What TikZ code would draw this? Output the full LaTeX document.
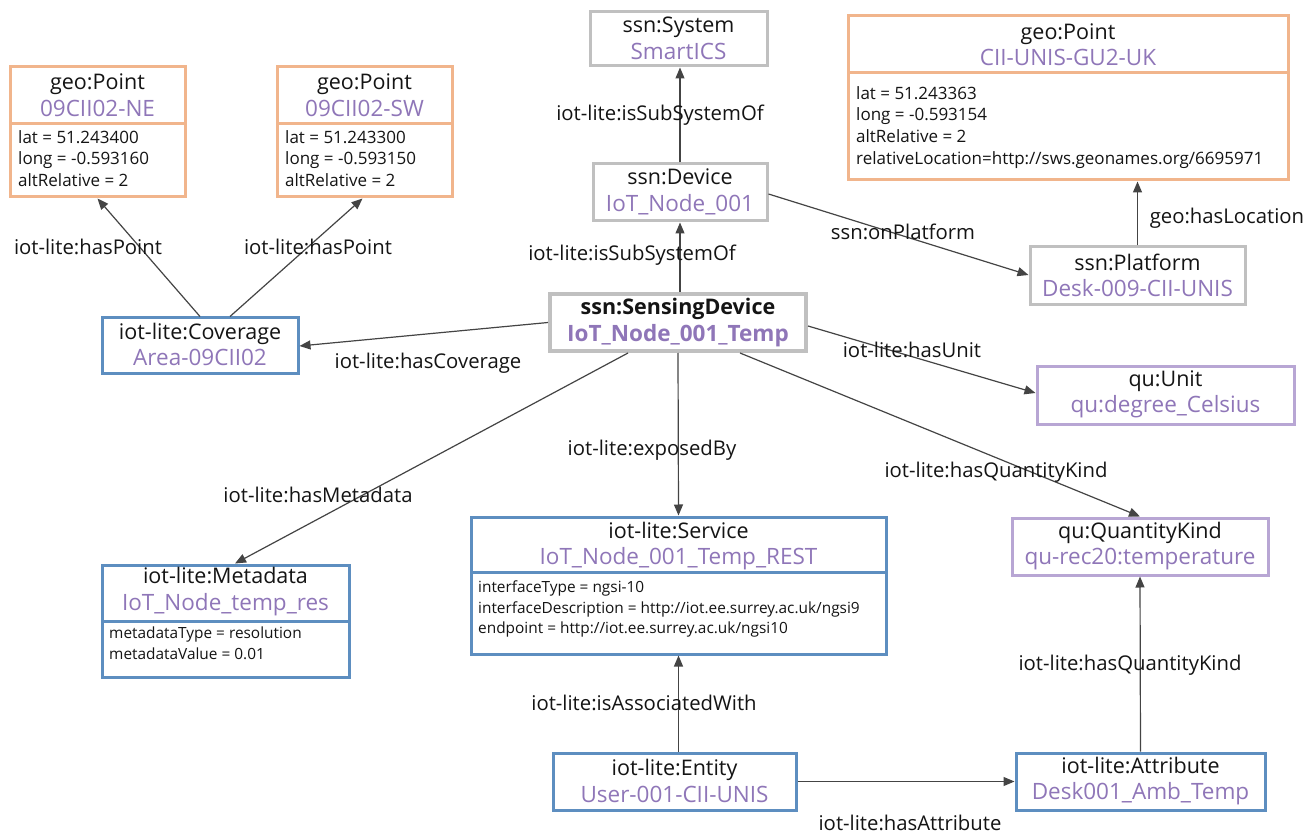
\documentclass[tikz,border=0pt]{standalone}
\usepackage{fontspec}
\setmainfont{Open Sans}
\usetikzlibrary{arrows.meta}
\definecolor{orangeB}{RGB}{241,181,140}
\definecolor{blueB}{RGB}{93,142,192}
\definecolor{greyB}{RGB}{192,192,192}
\definecolor{purpB}{RGB}{184,166,212}
\definecolor{purpT}{RGB}{143,118,184}
\definecolor{edgeC}{RGB}{68,68,68}
\definecolor{txtC}{RGB}{20,20,20}
\tikzset{
  box/.style={draw, line width=3, rectangle, inner sep=0, fill=white},
  obox/.style={box, draw=orangeB},
  bbox/.style={box, draw=blueB},
  gbox/.style={box, draw=greyB},
  pbox/.style={box, draw=purpB},
  ttl/.style={font=\fontsize{21.5}{26.5}\selectfont, align=center, inner sep=0, text=txtC},
  bodyg/.style={font=\fontsize{17}{21.7}\selectfont, align=left, anchor=north west, inner sep=0, text=txtC},
  bodys/.style={font=\fontsize{15.4}{20.5}\selectfont, align=left, anchor=north west, inner sep=0, text=txtC},
  rel/.style={draw=edgeC, line width=1.2, -{Triangle[length=11,width=9]}},
  lbl/.style={font=\fontsize{20.3}{22}\selectfont, inner sep=0, text=txtC},
}
\newcommand{\sub}[1]{\textcolor{purpT}{\fontsize{22.5}{26.5}\selectfont #1}}
\begin{document}
\begin{tikzpicture}[x=1pt,y=-1pt]
\useasboundingbox[fill=white] (0,0) rectangle (1310,834);

% ---- geo:Point NE
\node[obox, minimum width=175, minimum height=130] (ne) at (97.5,132) {};
\node[ttl] (neT) at (97.5,95) {geo:Point\\\sub{09CII02-NE}};
\draw[orangeB, line width=3] (10,124) -- (185,124);
\node[bodyg] (neB) at (18,130) {lat = 51.243400\\long = -0.593160\\altRelative = 2};

% ---- geo:Point SW
\node[obox, minimum width=175, minimum height=130] (sw) at (364.5,132) {};
\node[ttl] (swT) at (364.5,95) {geo:Point\\\sub{09CII02-SW}};
\draw[orangeB, line width=3] (277,124) -- (452,124);
\node[bodyg] (swB) at (285,130) {lat = 51.243300\\long = -0.593150\\altRelative = 2};

% ---- ssn:System
\node[gbox, minimum width=177, minimum height=54] (sys) at (678.5,39) {};
\node[ttl] (sysT) at (678.5,38.5) {ssn:System\\\sub{SmartICS}};

% ---- geo:Point UK
\node[obox, minimum width=440, minimum height=164] (geo) at (1068,98) {};
\node[ttl] (geoT) at (1068,44.5) {geo:Point\\\sub{CII-UNIS-GU2-UK}};
\draw[orangeB, line width=3] (848,73) -- (1288,73);
\node[bodyg] (geoB) at (856,86) {lat = 51.243363\\long = -0.593154\\altRelative = 2\\relativeLocation=http://sws.geonames.org/6695971};

% ---- ssn:Device
\node[gbox, minimum width=174, minimum height=57] (dev) at (680,192.5) {};
\node[ttl] (devT) at (680,192) {ssn:Device\\\sub{IoT\_Node\_001}};

% ---- ssn:Platform
\node[gbox, minimum width=215, minimum height=58] (plat) at (1137.5,276) {};
\node[ttl] (platT) at (1137.5,275.5) {ssn:Platform\\\sub{Desk-009-CII-UNIS}};

% ---- iot-lite:Coverage
\node[bbox, minimum width=196, minimum height=56] (cov) at (200,346) {};
\node[ttl] (covT) at (200,344.5) {iot-lite:Coverage\\\sub{Area-09CII02}};

% ---- ssn:SensingDevice
\node[gbox, line width=4, minimum width=256, minimum height=57] (sd) at (678,322.5) {};
\node[ttl] (sdT) at (678,322.5) {\textbf{ssn:SensingDevice}\\\sub{\textbf{IoT\_Node\_001\_Temp}}};

% ---- qu:Unit
\node[pbox, minimum width=257, minimum height=57] (unit) at (1165.5,395.5) {};
\node[ttl] (unitT) at (1165.5,394.5) {qu:Unit\\\sub{qu:degree\_Celsius}};

% ---- iot-lite:Service
\node[bbox, minimum width=415, minimum height=137] (svc) at (678.5,585.5) {};
\node[ttl] (svcT) at (678.5,546) {iot-lite:Service\\\sub{IoT\_Node\_001\_Temp\_REST}};
\draw[blueB, line width=3] (471,572) -- (886,572);
\node[bodys] (svcB) at (478,581) {interfaceType = ngsi-10\\interfaceDescription = http://iot.ee.surrey.ac.uk/ngsi9\\endpoint = http://iot.ee.surrey.ac.uk/ngsi10};

% ---- qu:QuantityKind
\node[pbox, minimum width=256, minimum height=57] (qk) at (1140,546.5) {};
\node[ttl] (qkT) at (1140,546) {qu:QuantityKind\\\sub{qu-rec20:temperature}};

% ---- iot-lite:Metadata
\node[bbox, minimum width=247, minimum height=112] (meta) at (225.5,621) {};
\node[ttl] (metaT) at (225.5,591.5) {iot-lite:Metadata\\\sub{IoT\_Node\_temp\_res}};
\draw[blueB, line width=3] (102,621) -- (349,621);
\node[bodys] (metaB) at (109,627) {metadataType = resolution\\metadataValue = 0.01};

% ---- iot-lite:Entity
\node[bbox, minimum width=243, minimum height=57] (ent) at (674.5,781.5) {};
\node[ttl] (entT) at (674.5,781) {iot-lite:Entity\\\sub{User-001-CII-UNIS}};

% ---- iot-lite:Attribute
\node[bbox, minimum width=249, minimum height=57] (att) at (1140.5,781.5) {};
\node[ttl] (attT) at (1140.5,781) {iot-lite:Attribute\\\sub{Desk001\_Amb\_Temp}};

% ---- connectors
\draw[rel] (cov.north) -- (ne.south);
\draw[rel] ([xshift=30]cov.north) -- ([xshift=-2]sw.south);
\draw[rel] (sd.west) -- (cov.east);
\draw[rel] (dev.north) -- (dev.north |- sys.south);
\draw[rel] (sd.north -| dev.south) -- (dev.south);
\draw[rel] ([yshift=-1.5]dev.east) -- ([yshift=1]plat.west);
\draw[rel] (plat.north) -- (plat.north |- geo.south);
\draw[rel] ([yshift=-3.5]sd.east) -- ([yshift=2.5]unit.west);
\draw[rel] ([xshift=62]sd.south) -- (qk.north);
\draw[rel] (sd.south) -- (svc.north);
\draw[rel] ([xshift=-50]sd.south) -- ([xshift=9.5]meta.north);
\draw[rel] (ent.north -| svc.south) -- (svc.south);
\draw[rel] (ent.east) -- (att.west);
\draw[rel] (att.north) -- (qk.south);

% ---- labels
\node[lbl] (l1) at (88,247) {iot-lite:hasPoint};
\node[lbl] (l2) at (318,247) {iot-lite:hasPoint};
\node[lbl] (l3) at (428,363) {iot-lite:hasCoverage};
\node[lbl] (l4) at (660,115) {iot-lite:isSubSystemOf};
\node[lbl] (l5) at (632,255) {iot-lite:isSubSystemOf};
\node[lbl] (l6) at (903,232) {ssn:onPlatform};
\node[lbl] (l7) at (1227,218) {geo:hasLocation};
\node[lbl] (l8) at (912,350) {iot-lite:hasUnit};
\node[lbl] (l9) at (996,472) {iot-lite:hasQuantityKind};
\node[lbl] (l10) at (652,450) {iot-lite:exposedBy};
\node[lbl] (l11) at (318,495) {iot-lite:hasMetadata};
\node[lbl] (l12) at (644,703) {iot-lite:isAssociatedWith};
\node[lbl] (l13) at (910,823) {iot-lite:hasAttribute};
\node[lbl] (l14) at (1130,665) {iot-lite:hasQuantityKind};
\end{tikzpicture}
\end{document}
